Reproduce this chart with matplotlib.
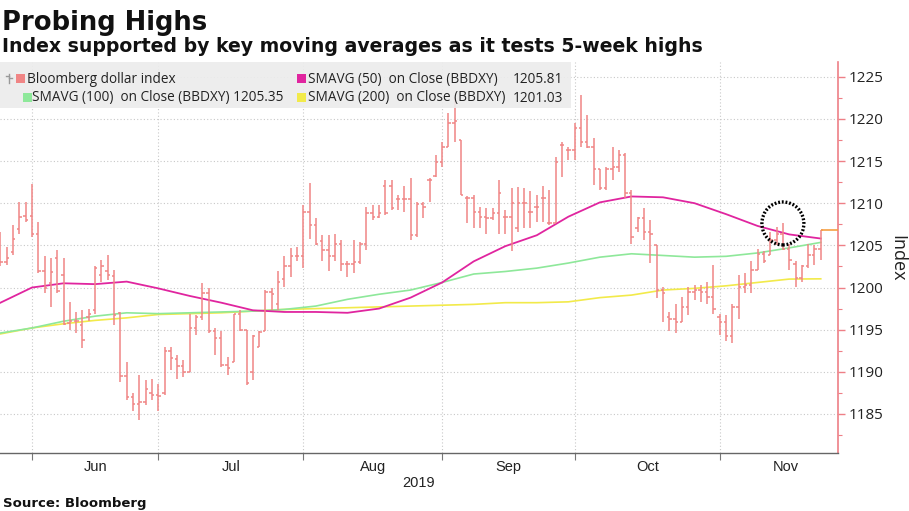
import numpy as np
import pandas as pd
import matplotlib
matplotlib.use("Agg")
import matplotlib.pyplot as plt
from matplotlib.patches import Rectangle, Ellipse
from matplotlib.lines import Line2D

# ---------------- data ----------------
start_date = "2019-05-27"   # first weekday shown

opens = [1204.0, 1203.0, 1204.2, 1206.9, 1208.5, 1208.5, 1206.3, 1202.0, 1200.5, 1203.5,
         1201.5, 1195.8, 1196.0, 1195.5, 1196.5, 1197.3, 1201.5, 1202.0, 1201.4, 1197.0,
         1189.5, 1187.0, 1186.2, 1186.4, 1187.5, 1187.2, 1187.5, 1192.5, 1191.5, 1190.7,
         1190.0, 1195.2, 1196.5, 1199.3, 1194.8, 1194.0, 1190.8, 1191.2, 1196.8, 1195.0,
         1190.0, 1193.0, 1194.8, 1199.5, 1198.0, 1201.0, 1202.6, 1203.7, 1203.7, 1209.0,
         1207.4, 1205.5, 1204.4, 1203.7, 1205.2, 1202.8, 1202.8, 1203.0, 1205.2, 1208.8,
         1208.4, 1212.0, 1212.0, 1210.5, 1210.5, 1210.5, 1206.2, 1209.9, 1212.7, 1213.2,
         1214.9, 1216.7, 1219.5, 1217.5, 1210.6, 1210.6, 1209.0, 1208.4, 1208.2, 1208.8,
         1208.4, 1208.4, 1207.0, 1210.0, 1209.0, 1209.6, 1210.6, 1207.6, 1207.6, 1216.9,
         1216.3, 1216.3, 1218.9, 1217.3, 1216.7, 1214.1, 1211.8, 1214.1, 1214.3, 1215.7,
         1211.2, 1207.0, 1208.2, 1206.6, 1205.0, 1199.7, 1196.5, 1196.3, 1195.9, 1197.7,
         1199.5, 1199.7, 1199.5, 1198.9, 1196.5, 1195.9, 1194.2, 1197.7, 1200.1, 1200.3,
         1202.1, 1204.0, 1203.9, 1205.6, 1206.4, 1204.6, 1202.8, 1201.1, 1202.5, 1203.9,
         1204.6]
highs = [1206.6, 1204.8, 1207.4, 1210.2, 1210.2, 1212.3, 1207.8, 1203.7, 1203.5, 1204.4,
         1203.5, 1198.3, 1197.1, 1197.3, 1197.5, 1202.5, 1203.3, 1203.9, 1202.1, 1197.1,
         1191.2, 1187.5, 1189.6, 1189.0, 1189.2, 1188.6, 1193.0, 1193.0, 1192.0, 1191.4,
         1196.9, 1196.7, 1200.5, 1199.9, 1195.2, 1194.8, 1191.8, 1196.9, 1197.3, 1195.0,
         1194.4, 1194.8, 1199.7, 1199.9, 1201.9, 1203.7, 1204.7, 1204.8, 1209.8, 1212.4,
         1208.2, 1206.2, 1206.2, 1206.4, 1205.6, 1203.1, 1205.6, 1205.4, 1209.6, 1209.8,
         1209.8, 1212.7, 1212.7, 1211.0, 1212.0, 1213.0, 1210.2, 1210.2, 1213.0, 1215.7,
         1217.3, 1220.7, 1222.5, 1217.5, 1210.8, 1211.0, 1209.6, 1209.4, 1209.4, 1212.7,
         1209.2, 1211.8, 1211.9, 1211.8, 1211.4, 1211.0, 1212.1, 1211.6, 1215.5, 1217.3,
         1216.7, 1219.5, 1222.8, 1220.5, 1217.7, 1214.1, 1214.3, 1216.7, 1216.3, 1215.9,
         1211.6, 1208.4, 1209.4, 1208.0, 1205.0, 1200.1, 1197.1, 1198.1, 1198.9, 1200.1,
         1200.3, 1200.3, 1200.7, 1202.7, 1196.9, 1196.7, 1198.1, 1201.5, 1201.7, 1203.1,
         1204.6, 1204.3, 1206.6, 1207.2, 1207.6, 1205.2, 1203.1, 1202.7, 1205.2, 1205.0,
         1206.8]
lows = [1202.5, 1202.7, 1203.8, 1206.4, 1207.8, 1206.0, 1201.7, 1199.3, 1197.7, 1199.3,
        1195.5, 1195.0, 1194.6, 1192.8, 1196.0, 1196.9, 1200.7, 1200.9, 1195.6, 1188.8,
        1186.7, 1185.3, 1184.3, 1186.1, 1186.7, 1185.3, 1187.3, 1190.2, 1189.2, 1189.4,
        1190.0, 1194.4, 1196.1, 1194.6, 1192.0, 1190.6, 1189.6, 1191.2, 1194.8, 1188.4,
        1189.0, 1193.0, 1194.8, 1197.3, 1197.3, 1200.1, 1201.3, 1203.1, 1202.3, 1205.8,
        1205.0, 1203.1, 1201.9, 1203.1, 1201.9, 1201.3, 1201.7, 1202.8, 1204.4, 1208.0,
        1208.2, 1208.6, 1209.2, 1209.2, 1209.0, 1205.6, 1206.0, 1208.2, 1210.2, 1213.1,
        1214.3, 1216.7, 1217.3, 1211.0, 1207.6, 1207.0, 1207.0, 1206.4, 1208.0, 1206.4,
        1206.4, 1204.3, 1206.6, 1207.0, 1207.0, 1207.8, 1207.8, 1207.4, 1207.6, 1213.1,
        1215.1, 1215.1, 1216.7, 1216.5, 1212.2, 1211.6, 1211.6, 1212.7, 1213.7, 1210.6,
        1205.2, 1206.6, 1205.6, 1202.9, 1198.7, 1195.9, 1194.8, 1194.6, 1195.9, 1196.7,
        1198.5, 1198.3, 1198.1, 1196.9, 1194.4, 1193.6, 1193.4, 1196.3, 1199.3, 1199.3,
        1202.1, 1202.9, 1203.9, 1205.0, 1204.5, 1202.1, 1200.1, 1200.7, 1202.3, 1202.7,
        1203.3]
closes = [1203.0, 1203.5, 1205.8, 1208.4, 1208.0, 1206.3, 1201.9, 1199.9, 1201.8, 1199.6,
          1195.7, 1196.0, 1196.0, 1193.8, 1196.8, 1202.3, 1202.5, 1201.5, 1196.7, 1189.5,
          1187.0, 1186.2, 1186.4, 1188.0, 1187.2, 1187.1, 1192.5, 1191.6, 1190.7, 1190.0,
          1195.2, 1196.5, 1199.3, 1194.8, 1194.0, 1190.8, 1190.4, 1196.8, 1195.0, 1188.7,
          1194.2, 1194.7, 1199.5, 1199.2, 1200.7, 1202.6, 1203.7, 1203.7, 1209.0, 1207.4,
          1205.2, 1204.4, 1203.7, 1205.2, 1202.8, 1202.8, 1203.0, 1205.2, 1208.8, 1208.4,
          1208.8, 1208.8, 1209.4, 1210.5, 1210.5, 1206.2, 1209.9, 1209.6, 1212.7, 1214.9,
          1216.7, 1219.5, 1219.7, 1211.0, 1210.6, 1209.0, 1208.4, 1208.2, 1208.8, 1211.2,
          1208.4, 1210.0, 1210.0, 1210.0, 1209.0, 1209.6, 1210.6, 1207.6, 1214.9, 1216.9,
          1216.3, 1218.9, 1217.3, 1216.7, 1214.1, 1211.8, 1214.1, 1214.3, 1215.7, 1211.2,
          1206.0, 1208.2, 1206.6, 1206.4, 1199.7, 1199.3, 1196.3, 1195.9, 1197.7, 1199.5,
          1199.7, 1199.5, 1198.9, 1197.5, 1195.9, 1194.2, 1197.7, 1200.1, 1200.3, 1202.1,
          1204.0, 1203.1, 1205.6, 1206.4, 1204.6, 1203.3, 1201.1, 1202.5, 1203.9, 1204.6,
          1206.8]

# moving averages read every 5th bar (bar 0, 5, 10, ...)
ma_step = 5
sma50 = [1198.2, 1200.0, 1200.5, 1200.4, 1200.7, 1199.9, 1199.0, 1198.2, 1197.3, 1197.1,
         1197.1, 1197.0, 1197.5, 1198.8, 1200.6, 1203.1, 1204.9, 1206.2, 1208.4, 1210.1,
         1210.8, 1210.7, 1210.0, 1208.7, 1207.3, 1206.3, 1205.81]
sma100 = [1194.6, 1195.2, 1196.0, 1196.6, 1197.0, 1196.9, 1197.0, 1197.1, 1197.2, 1197.4,
          1197.8, 1198.6, 1199.2, 1199.7, 1200.6, 1201.6, 1201.9, 1202.3, 1202.9, 1203.6,
          1204.0, 1203.8, 1203.6, 1203.7, 1204.1, 1204.7, 1205.35]
sma200 = [1194.5, 1195.2, 1195.7, 1196.1, 1196.4, 1196.8, 1196.9, 1197.0, 1197.2, 1197.4,
          1197.5, 1197.6, 1197.7, 1197.8, 1197.9, 1198.0, 1198.2, 1198.2, 1198.3, 1198.8,
          1199.1, 1199.7, 1199.9, 1200.2, 1200.6, 1201.0, 1201.03]

legend_labels = ["Bloomberg dollar index", "SMAVG (50)  on Close (BBDXY)",
                 "SMAVG (100)  on Close (BBDXY)", "SMAVG (200)  on Close (BBDXY)"]
legend_values = ["", "1205.81", "1205.35", "1201.03"]
y_ticks = [1185, 1190, 1195, 1200, 1205, 1210, 1215, 1220, 1225]
title = "Probing Highs"
subtitle = "Index supported by key moving averages as it tests 5-week highs"
source = "Source: Bloomberg"
year_label = "2019"
y_label = "Index"

# ---------------- style ----------------
C_BAR = "#f08585"
C_50 = "#e0259f"
C_100 = "#8ee89a"
C_200 = "#f2ea4a"
C_AXIS = "#ee7f86"
C_LAST = "#f5a043"
TICK_FONT = ["Open Sans", "DejaVu Sans"]
NARROW_FONT = ["Liberation Sans Narrow", "Liberation Sans", "DejaVu Sans"]
BOLD_FONT = ["DejaVu Sans"]

W, H = 909, 511
fig = plt.figure(figsize=(W / 100, H / 100), dpi=100)
fig.patch.set_facecolor("white")


def fx(px):
    return px / W


def fy(py):
    return 1 - py / H


ax_left, ax_right, ax_top, ax_bottom = 0, 838, 62, 453
ax = fig.add_axes([fx(ax_left), fy(ax_bottom), fx(ax_right - ax_left), (ax_bottom - ax_top) / H])

n = len(closes)
x = np.arange(n)
o = np.array(opens); h = np.array(highs); l = np.array(lows); c = np.array(closes)

# OHLC bars
ax.vlines(x, l, h, color=C_BAR, lw=1.1, zorder=3)
ax.hlines(o, x - 0.38, x, color=C_BAR, lw=1.1, zorder=3)
ax.hlines(c, x, x + 0.38, color=C_BAR, lw=1.1, zorder=3)

# moving averages
ma_x = np.arange(0, n, ma_step)
ax.plot(ma_x, sma200, color=C_200, lw=1.2, zorder=2, solid_joinstyle="round")
ax.plot(ma_x, sma100, color=C_100, lw=1.2, zorder=2, solid_joinstyle="round")
ax.plot(ma_x, sma50, color=C_50, lw=1.3, zorder=2, solid_joinstyle="round")

# axis limits (weekday index)
px_per_bar = 6.31
first_month_px = 32
ext_dates = pd.bdate_range(start_date, periods=n + 30)
month_starts = [k for k in range(1, len(ext_dates)) if ext_dates[k].month != ext_dates[k - 1].month]
j0 = month_starts[0]
x_lo = j0 - (first_month_px - ax_left) / px_per_bar
x_hi = j0 + (ax_right - first_month_px) / px_per_bar
ax.set_xlim(x_lo, x_hi)
ax.set_ylim(1180.37, 1226.75)

# last price line
ax.hlines(c[-1], x[-1], x_hi, color=C_LAST, lw=1.2, zorder=4, clip_on=False)

# grid / ticks
vis_starts = [m for m in month_starts if m <= x_hi]
ax.set_xticks(vis_starts)
ax.set_xticklabels([])
mids = [(month_starts[k] + month_starts[k + 1]) / 2 for k in range(len(month_starts) - 1)]
mids = [m for m in mids if m <= x_hi]
ax.set_xticks(mids, minor=True)
ax.set_xticklabels([ext_dates[int(m)].strftime("%b") for m in mids], minor=True,
                   fontfamily=NARROW_FONT, fontsize=10.5)
ax.tick_params(axis="x", which="major", direction="out", length=5, color="#777777", width=0.8)
ax.tick_params(axis="x", which="minor", length=0, pad=5, labelcolor="#222222")

ax.yaxis.tick_right()
ax.set_yticks(y_ticks)
ax.set_yticklabels([str(v) for v in y_ticks], fontfamily=TICK_FONT, fontsize=11)
ax.set_yticks(np.arange(1182.5, 1226, 5), minor=True)
ax.tick_params(axis="y", which="major", direction="out", length=5, color=C_AXIS, width=1,
               pad=3, labelcolor="#222222")
ax.tick_params(axis="y", which="minor", direction="out", length=3, color=C_AXIS, width=0.8)

ax.grid(True, which="major", axis="both", linestyle=(0, (1, 2)), color="#c8c8c8", lw=0.8, zorder=0)
ax.set_axisbelow(True)

for s in ["left", "top"]:
    ax.spines[s].set_visible(False)
ax.spines["right"].set_color(C_AXIS)
ax.spines["right"].set_linewidth(1.2)
ax.spines["bottom"].set_color("#666666")
ax.spines["bottom"].set_linewidth(1.0)

# dotted circle highlighting recent highs
recent = 10
k_c = n - recent + int(np.argmax(h[-recent:]))
circ = Ellipse((x[k_c], h[k_c]), width=42 / px_per_bar, height=43 / 8.43, fill=False,
               edgecolor="black", lw=2.4, linestyle=(0, (0.55, 0.55)), zorder=6)
ax.add_patch(circ)

# legend box
fig.add_artist(Rectangle((fx(0), fy(108)), fx(571), (108 - 62) / H, transform=fig.transFigure,
                         facecolor="#ececec", edgecolor="none", alpha=0.9, zorder=5))
sq = 9
leg_rows = [79, 98]
entries = [(16, leg_rows[0], C_BAR, 27), (297, leg_rows[0], C_50, 308),
           (23, leg_rows[1], C_100, 32), (297, leg_rows[1], C_200, 308)]
for (sx, sy, col, tx), lab, val in zip(entries, legend_labels, legend_values):
    fig.add_artist(Rectangle((fx(sx), fy(sy + sq / 2)), sq / W, sq / H, transform=fig.transFigure,
                             facecolor=col, edgecolor="none", zorder=6))
    txt = lab if val == "" or sx > 100 else lab + " " + val
    fig.text(fx(tx), fy(sy), txt, fontsize=9.8, fontfamily=TICK_FONT, color="#222222",
             va="center", ha="left", zorder=7)
    if val and sx > 100:
        fig.text(fx(563), fy(sy), val, fontsize=9.8, fontfamily=TICK_FONT, color="#222222",
                 va="center", ha="right", zorder=7)
# small ohlc glyph in legend
gx, gy = 9, leg_rows[0]
fig.add_artist(Line2D([fx(gx), fx(gx)], [fy(gy - 5), fy(gy + 4)], color="#999999", lw=1, zorder=7))
fig.add_artist(Line2D([fx(gx - 3), fx(gx)], [fy(gy - 3), fy(gy - 3)], color="#999999", lw=1, zorder=7))
fig.add_artist(Line2D([fx(gx), fx(gx + 3)], [fy(gy - 1), fy(gy - 1)], color="#999999", lw=1, zorder=7))

# titles and labels
fig.text(fx(2), fy(30), title, fontsize=18.6, fontweight="bold", fontfamily=BOLD_FONT,
         color="#111111", ha="left", va="baseline")
fig.text(fx(2), fy(52), subtitle, fontsize=13.6, fontweight="bold", fontfamily=BOLD_FONT,
         color="#111111", ha="left", va="baseline")
fig.text(fx(3), fy(507), source, fontsize=9.5, fontweight="bold", fontfamily=BOLD_FONT,
         color="#111111", ha="left", va="baseline")
fig.text(fx((ax_left + ax_right) / 2), fy(483), year_label, fontsize=10.5, fontfamily=NARROW_FONT,
         color="#222222", ha="center", va="center")
fig.text(fx(897), fy(258), y_label, fontsize=13, fontfamily=TICK_FONT, color="#222222",
         rotation=270, ha="center", va="center")

fig.savefig("out.png", dpi=100)
